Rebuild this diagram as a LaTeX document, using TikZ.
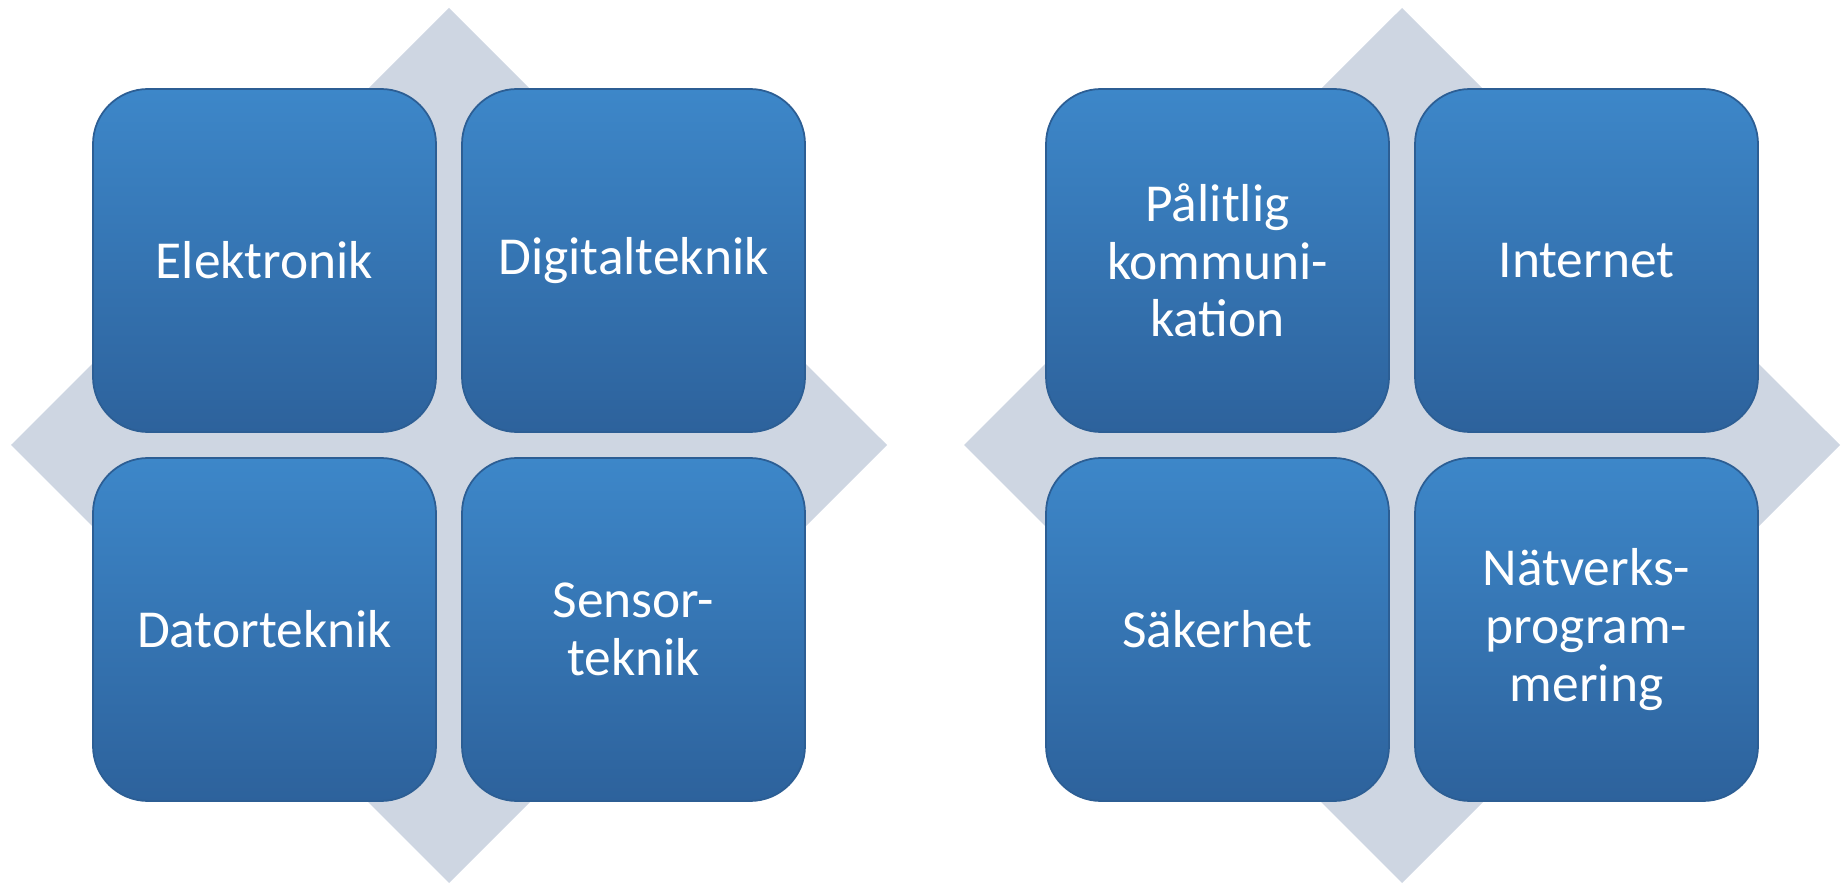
\documentclass[tikz,border=0pt]{standalone}
\usepackage{fontspec}
\setmainfont{Carlito}
\usetikzlibrary{positioning, calc}

\definecolor{ruta}{RGB}{206,214,226}
\definecolor{blaupp}{RGB}{61,135,201}
\definecolor{blaned}{RGB}{45,98,156}
\definecolor{blakant}{RGB}{44,94,148}

\tikzset{
  ruta/.style={fill=ruta, draw=none},
  kort/.style={rectangle, rounded corners=0.55cm, minimum width=3.43cm,
    minimum height=3.43cm, inner sep=0pt, top color=blaupp,
    bottom color=blaned, draw=blakant, line width=0.5pt,
    text=white, align=center, font=\fontsize{15.2pt}{16.4pt}\selectfont}
}

\begin{document}
\begin{tikzpicture}
% 1. ramen
\useasboundingbox (0, 0) rectangle (18.42, 8.83);

% 2. mittpunkter
\coordinate (V) at (4.49, 4.38);
\coordinate (H) at (14.02, 4.38);

% 3. de gra rutorna
\foreach \c in {V, H}
  {\fill[ruta] ($(\c)+(0, 4.37)$) -- ($(\c)+(4.38, 0)$)
     -- ($(\c)+(0, -4.38)$) -- ($(\c)+(-4.38, 0)$) -- cycle;
  }

% 4. korten
\foreach \n/\c/\dx/\dy/\t in
    {el/V/-1.845/1.845/Elektronik,
     dig/V/1.845/1.845/Digitalteknik,
     dat/V/-1.845/-1.845/Datorteknik,
     sen/V/1.845/-1.845/{Sensor-\\teknik},
     pal/H/-1.845/1.845/{Pålitlig\\kommuni-\\kation},
     int/H/1.845/1.845/Internet,
     sak/H/-1.845/-1.845/Säkerhet,
     nat/H/1.845/-1.845/{Nätverks-\\program-\\mering}}
    {\node[kort] (\n) at ($(\c)+(\dx, \dy)$) {\t};
    }
\end{tikzpicture}
\end{document}
